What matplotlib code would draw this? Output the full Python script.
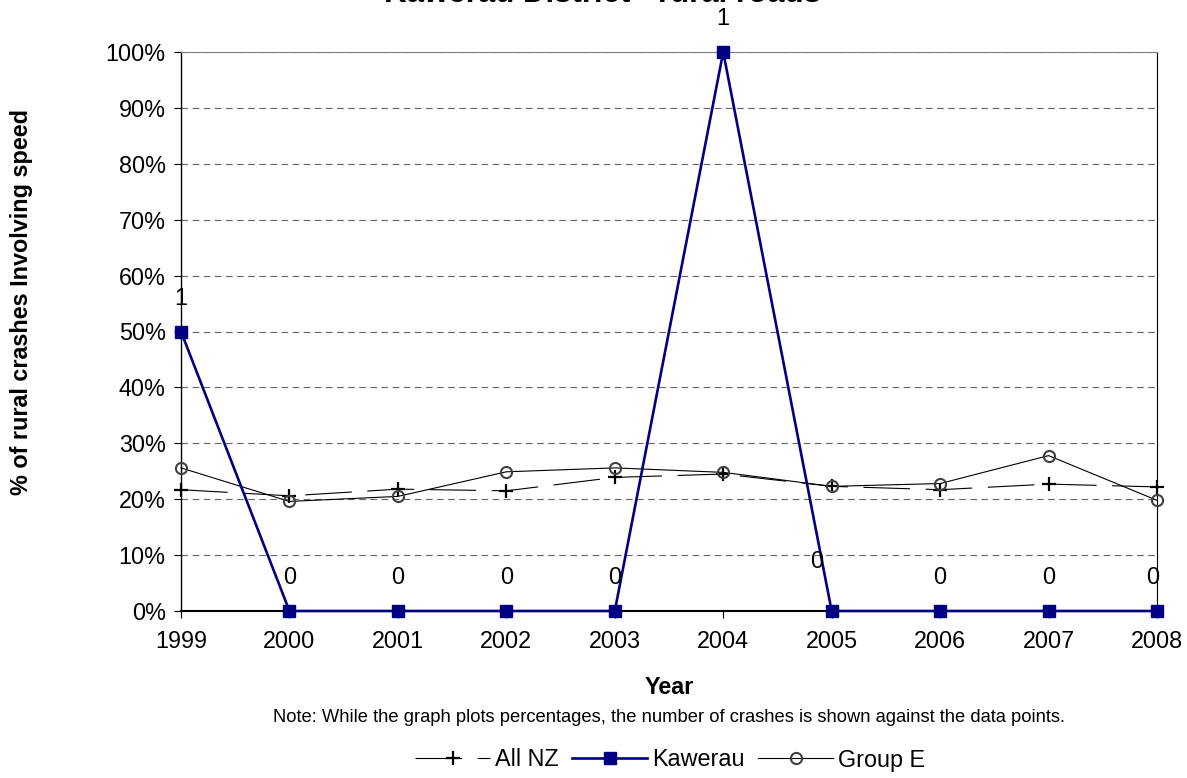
import matplotlib.pyplot as plt
import numpy as np

plt.rcParams['font.family'] = ['Liberation Sans', 'DejaVu Sans']

# data
years = ['1999', '2000', '2001', '2002', '2003', '2004', '2005', '2006', '2007', '2008']
all_nz = [21.7, 20.6, 21.8, 21.5, 23.9, 24.5, 22.3, 21.7, 22.7, 22.2]
kawerau = [50, 0, 0, 0, 0, 100, 0, 0, 0, 0]
group_e = [25.6, 19.6, 20.5, 24.9, 25.6, 24.8, 22.3, 22.8, 27.8, 19.8]
kawerau_counts = [1, 0, 0, 0, 0, 1, 0, 0, 0, 0]

W, H = 1187, 778
fs = 16.8
fig = plt.figure(figsize=(W / 100, H / 100), dpi=100)
ax = fig.add_axes([181 / W, 1 - 611 / H, (1157 - 181) / W, (611 - 52) / H])

x = np.arange(len(years))

# ---- series ----
ax.plot(x, all_nz, color='black', lw=0.8, dashes=(42, 14), marker='+',
        markersize=10, markeredgewidth=1.6, clip_on=False, zorder=3, label='All NZ')
ax.plot(x, kawerau, color='#000080', lw=1.9, marker='s', markersize=9,
        clip_on=False, zorder=5, label='Kawerau')
ax.plot(x, group_e, color='black', lw=0.8, marker='o', markersize=8,
        markerfacecolor='none', markeredgecolor='#404040', markeredgewidth=1.5,
        clip_on=False, zorder=4, label='Group E')

# numbers of crashes above Kawerau points
for i in range(len(years)):
    dx, dy = 0, 24
    if years[i] == '2005':
        dx, dy = -11, 36
    if years[i] == '2008':
        dx = -3
    ax.annotate(str(kawerau_counts[i]), (x[i], kawerau[i]), xytext=(dx, dy),
                textcoords='offset points', ha='center', va='center',
                fontsize=fs, annotation_clip=False, zorder=6)

# ---- axes ----
ax.set_xlim(0, 9)
ax.set_ylim(0, 100)
ax.set_yticks(np.arange(0, 101, 10))
ax.set_yticklabels([str(v) + '%' for v in range(0, 101, 10)])
ax.set_xticks(x)
ax.set_xticklabels(years)
ax.tick_params(axis='both', labelsize=fs, direction='out', length=5, width=0.8)
ax.tick_params(axis='x', pad=9)
ax.tick_params(axis='y', pad=6)

ax.grid(axis='y', color='#666666', linestyle=(0, (6, 4)), lw=0.8)
ax.set_axisbelow(True)
ax.spines['top'].set_color('#808080')
ax.spines['top'].set_linewidth(0.8)
ax.spines['right'].set_linewidth(0.8)
ax.spines['left'].set_linewidth(1)
ax.spines['bottom'].set_linewidth(1.5)

# axis titles
fig.text(669 / W, 1 - 688 / H, 'Year', ha='center', va='center',
         fontsize=fs, fontweight='bold')
fig.text(22 / W, 1 - 302 / H, '% of rural crashes Involving speed', rotation=90,
         ha='center', va='center', fontsize=fs, fontweight='bold')

# title sits mostly above the top edge, as in the original
fig.text(603 / W, 1 - 2 / H, 'Kawerau District - rural roads', ha='center',
         va='baseline', fontsize=22.5, fontweight='bold')
fig.text(669 / W, 1 - 717 / H,
         'Note: While the graph plots percentages, the number of crashes is shown against the data points.',
         ha='center', va='center', fontsize=13.2)

fig.legend(loc='center', bbox_to_anchor=(670 / W, 1 - 760 / H), ncol=3, frameon=False,
           fontsize=fs, handlelength=3.2, handletextpad=0.2, columnspacing=0.6)

plt.savefig('out.png', dpi=100)
